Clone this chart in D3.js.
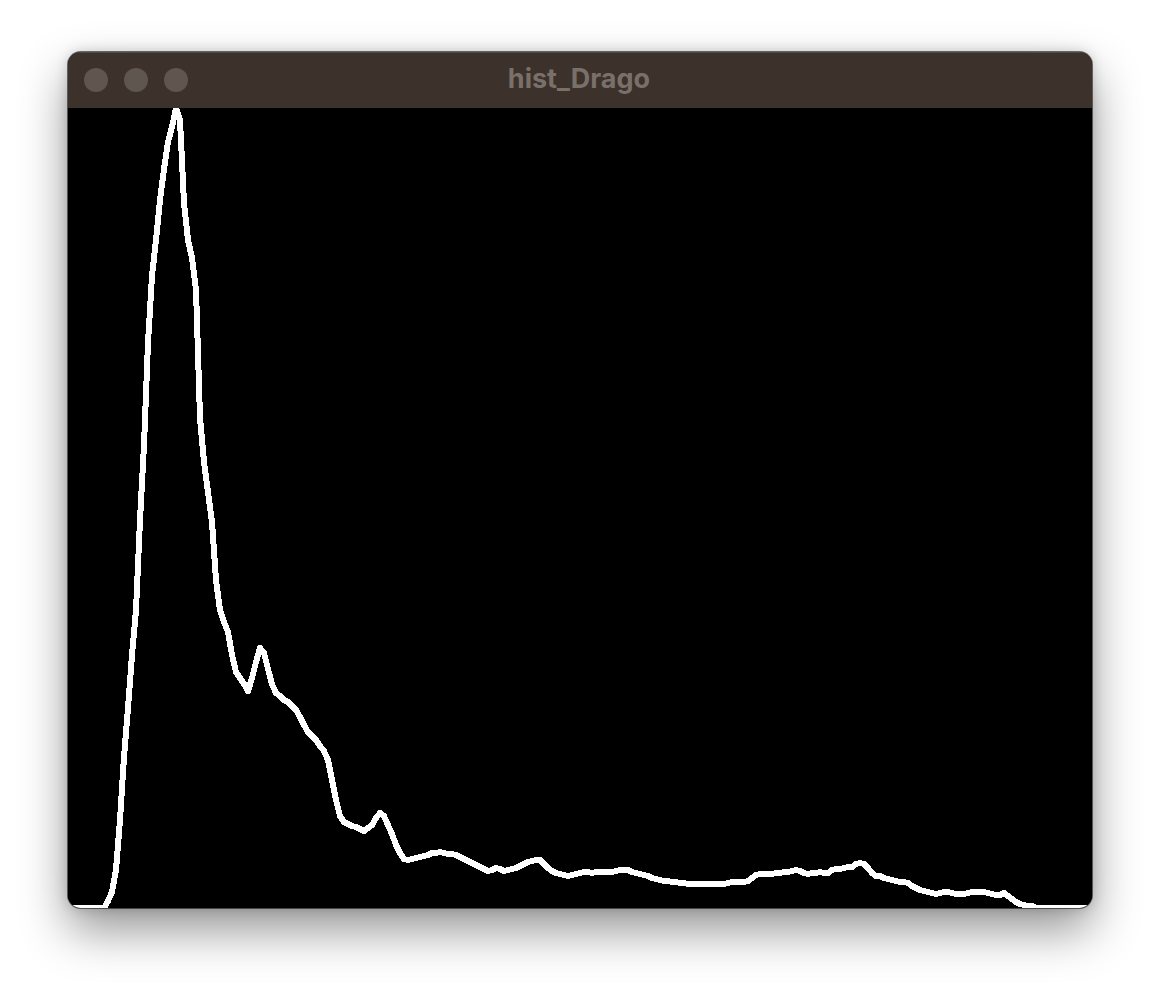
<!DOCTYPE html>
<html>
<head>
<meta charset="utf-8">
<script src="https://cdn.jsdelivr.net/npm/d3@7"></script>
<style>
  html, body { margin: 0; padding: 0; background: #ffffff; }
  body { width: 1160px; height: 992px; position: relative; overflow: hidden; }
  .window {
    position: absolute; left: 68px; top: 52px; width: 1024px; height: 856px;
    border-radius: 13px; overflow: hidden; background: #000;
    box-shadow: 0 0 0 1px rgba(0,0,0,0.55), 0 22px 48px rgba(0,0,0,0.42), 0 0 14px rgba(0,0,0,0.18);
  }
  .titlebar {
    position: absolute; left: 0; top: 0; width: 1024px; height: 56px;
    background: #3c322b; box-shadow: inset 0 1px 0 rgba(255,255,255,0.12);
  }
  .chart { position: absolute; left: 0; top: 56px; display: block; }
</style>
</head>
<body>
<div class="window">
  <svg class="titlebar" width="1024" height="56"></svg>
  <svg class="chart" width="1024" height="800"></svg>
</div>
<script>
//------------------------------------------------------------------------------
//Data
//------------------------------------------------------------------------------
var windowTitle = "hist_Drago";
var histSize = 256;
var histMax = 800;   // values were normalized to the image height

// one value per bin
var binValues = [
  0, 0, 0, 0, 0, 0, 0, 0, 0, 0, 7, 16, 38, 88, 151, 200,
  253, 298, 388, 463, 565, 632, 668, 708, 739, 766, 781, 800, 788, 705, 668, 650,
  618, 490, 446, 416, 386, 328, 298, 286, 276, 253, 236, 230, 224, 217, 230, 246,
  260, 255, 239, 224, 215, 212, 208, 206, 202, 198, 191, 183, 176, 172, 168, 162,
  157, 148, 128, 108, 92, 86, 84, 82, 81, 79, 77, 80, 83, 90, 95, 92,
  83, 74, 63, 55, 49, 48, 49, 50, 51, 52, 53, 55, 55, 56, 55, 54,
  54, 53, 51, 49, 47, 45, 43, 41, 39, 37, 38, 40, 39, 37, 38, 39,
  40, 42, 44, 46, 47, 48, 48, 44, 40, 37, 35, 34, 33, 32, 33, 34,
  35, 36, 36, 35, 36, 36, 36, 36, 36, 37, 38, 38, 38, 36, 35, 34,
  33, 32, 30, 29, 28, 27, 27, 26, 26, 25, 25, 24, 24, 24, 24, 24,
  24, 24, 24, 24, 24, 25, 26, 26, 26, 26, 27, 30, 33, 34, 34, 34,
  34, 35, 35, 36, 36, 37, 38, 37, 35, 34, 35, 35, 36, 35, 35, 38,
  39, 39, 40, 41, 41, 44, 45, 44, 40, 35, 32, 32, 30, 29, 28, 27,
  26, 26, 25, 22, 20, 18, 17, 16, 15, 14, 15, 16, 16, 15, 14, 14,
  14, 15, 16, 16, 16, 16, 15, 14, 13, 13, 15, 12, 9, 6, 4, 3,
  2, 2, 0, 0, 0, 0, 0, 0, 0, 0, 0, 0, 0, 0, 0, 0
];

// traffic light buttons (all grey, window not focused)
var buttonIds = ["close", "minimize", "zoom"];

//------------------------------------------------------------------------------
//Title bar
//------------------------------------------------------------------------------
function drawTitleBar() {
  var svg = d3.select(".titlebar");

  svg.selectAll("circle")
    .data(buttonIds)
    .enter()
    .append("circle")
      .attr("cx", function (d, i) { return 28 + i * 40; })
      .attr("cy", 28)
      .attr("r", 12)
      .attr("fill", "#5f564f");

  svg.append("text")
    .attr("x", 511)
    .attr("y", 36)
    .attr("text-anchor", "middle")
    .attr("font-family", "Inter, 'Open Sans', sans-serif")
    .attr("font-weight", "bold")
    .attr("font-size", "27px")
    .attr("fill", "#7a706a")
    .text(windowTitle);
}

//------------------------------------------------------------------------------
//Histogram
//------------------------------------------------------------------------------
function drawHistogram(values) {
  var svg = d3.select(".chart");
  var width = +svg.attr("width");
  var height = +svg.attr("height");

  svg.append("rect")
    .attr("width", width)
    .attr("height", height)
    .attr("fill", "#000");

  var x = d3.scaleLinear().domain([0, histSize]).range([0, width]);
  var y = d3.scaleLinear().domain([0, histMax]).range([height, 0]);

  var line = d3.line()
    .x(function (d, i) { return x(i); })
    .y(function (d) { return y(d); });

  // opencv style: thick, not anti-aliased
  svg.append("path")
    .datum(values)
    .attr("d", line)
    .attr("fill", "none")
    .attr("stroke", "#ffffff")
    .attr("stroke-width", 6)
    .attr("stroke-linejoin", "round")
    .attr("stroke-linecap", "round")
    .attr("shape-rendering", "crispEdges");
}

drawTitleBar();
drawHistogram(binValues);
</script>
</body>
</html>
